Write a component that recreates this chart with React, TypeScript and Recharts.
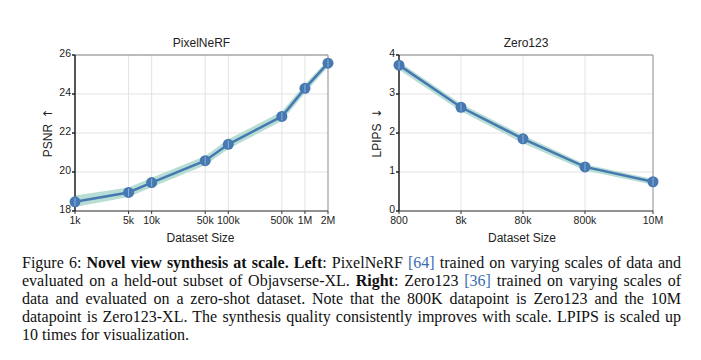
import { ComposedChart, Line, Area, XAxis, YAxis, CartesianGrid, ReferenceLine, Label } from "recharts";

// PixelNeRF panel
const pixelSizes = [1000, 5000, 10000, 50000, 100000, 500000, 1000000, 2000000];
const pixelTickLabels = ["1k", "5k", "10k", "50k", "100k", "500k", "1M", "2M"];
const psnr = [18.47, 18.95, 19.46, 20.58, 21.42, 22.85, 24.29, 25.58];
const psnrLow = [18.2, 18.72, 19.22, 20.35, 21.18, 22.62, 24.05, 25.38];
const psnrHigh = [18.8, 19.2, 19.7, 20.82, 21.68, 23.1, 24.5, 25.75];
const psnrTicks = [18, 20, 22, 24, 26];

// Zero123 panel
const zeroSizes = [800, 8000, 80000, 800000, 10000000];
const zeroTickLabels = ["800", "8k", "80k", "800k", "10M"];
const lpips = [3.74, 2.66, 1.85, 1.13, 0.75];
const lpipsLow = [3.62, 2.56, 1.74, 1.04, 0.67];
const lpipsHigh = [3.83, 2.75, 1.94, 1.2, 0.82];
const lpipsTicks = [0, 1, 2, 3, 4];

const captionLines = [
  [
    { t: "Figure 6: " },
    { t: "Novel view synthesis at scale.", b: true },
    { t: " " },
    { t: "Left", b: true },
    { t: ": PixelNeRF " },
    { t: "[64]", link: true },
    { t: " trained on varying scales of data and" },
  ],
  [
    { t: "evaluated on a held-out subset of Objavserse-XL. " },
    { t: "Right", b: true },
    { t: ": Zero123 " },
    { t: "[36]", link: true },
    { t: " trained on varying scales of" },
  ],
  [{ t: "data and evaluated on a zero-shot dataset. Note that the 800K datapoint is Zero123 and the 10M" }],
  [{ t: "datapoint is Zero123-XL. The synthesis quality consistently improves with scale. LPIPS is scaled up" }],
  [{ t: "10 times for visualization." }],
];

const BLUE = "#4678b1";
const BAND = "#b7ddd4";
const FONT = "'Liberation Sans', Arial, sans-serif";

function Dot(props: any) {
  const { cx, cy } = props;
  if (cx == null || cy == null) return null;
  return (
    <g>
      <circle cx={cx} cy={cy} r={5.5} fill={BLUE} />
      <line x1={cx} x2={cx} y1={cy - 4} y2={cy + 4} stroke="#8fb0d6" strokeWidth={1} />
    </g>
  );
}

interface PanelProps {
  left: number;
  title: string;
  sizes: number[];
  tickLabels: string[];
  values: number[];
  low: number[];
  high: number[];
  yTicks: number[];
  yLabel: string;
  arrow: string;
  yLabelX: number;
  xLabelDx: number;
  marginLeft: number;
  marginRight: number;
}

function Panel(p: PanelProps) {
  const data = p.sizes.map((s, i) => ({
    size: s,
    value: p.values[i],
    band: [p.low[i], p.high[i]],
  }));
  const yAxisWidth = 40;
  const plotLeft = p.marginLeft + yAxisWidth;
  const plotWidth = 350 - plotLeft - p.marginRight;
  const xMax = p.sizes[p.sizes.length - 1];
  const yMax = p.yTicks[p.yTicks.length - 1];
  return (
    <div style={{ position: "absolute", left: p.left, top: 0, width: 350, height: 250 }}>
      <div
        style={{
          position: "absolute",
          left: plotLeft,
          width: plotWidth,
          top: 36,
          lineHeight: "15px",
          fontSize: 12,
          fontFamily: FONT,
          color: "#222",
          textAlign: "center",
        }}
      >
        {p.title}
      </div>
      <div
        style={{
          position: "absolute",
          left: p.yLabelX,
          top: 133,
          transform: "translate(-50%, -50%) rotate(-90deg)",
          whiteSpace: "nowrap",
          fontSize: 12,
          lineHeight: "14px",
          fontFamily: FONT,
          color: "#222",
          zIndex: 2,
        }}
      >
        {p.yLabel}
        <span style={{ fontFamily: "'DejaVu Sans', sans-serif", fontSize: 12, marginLeft: 5 }}>{p.arrow}</span>
      </div>
      <ComposedChart
        width={350}
        height={250}
        data={data}
        margin={{ top: 55, right: p.marginRight, bottom: 0, left: p.marginLeft }}
        style={{ fontFamily: FONT }}
      >
        <CartesianGrid stroke="#e3e3e3" strokeWidth={1} />
        <XAxis
          dataKey="size"
          type="number"
          scale="log"
          domain={[p.sizes[0], xMax]}
          ticks={p.sizes}
          tickFormatter={(v: number) => p.tickLabels[p.sizes.indexOf(v)] ?? ""}
          height={39}
          tickSize={3}
          tickMargin={3}
          interval={0}
          stroke="#333"
          tick={{ fontSize: 10.5, fill: "#222" }}
        >
          <Label
            value="Dataset Size"
            position="insideBottom"
            offset={8}
            dx={p.xLabelDx}
            style={{ fontSize: 12, fill: "#222" }}
          />
        </XAxis>
        <YAxis
          type="number"
          domain={[p.yTicks[0], yMax]}
          ticks={p.yTicks}
          width={yAxisWidth}
          tickSize={3}
          tickMargin={1}
          interval={0}
          stroke="#222"
          strokeWidth={1.5}
          tick={{ fontSize: 10.5, fill: "#222", dy: -2 }}
        />
        <ReferenceLine y={yMax} stroke="#888" strokeWidth={1} />
        <ReferenceLine x={xMax} stroke="#999" strokeWidth={1} />
        <Area dataKey="band" type="linear" stroke="none" fill={BAND} fillOpacity={1} isAnimationActive={false} />
        <Line
          dataKey="value"
          type="linear"
          stroke={BLUE}
          strokeWidth={2.5}
          dot={<Dot />}
          activeDot={false}
          isAnimationActive={false}
        />
      </ComposedChart>
    </div>
  );
}

export default function App() {
  return (
    <div style={{ position: "absolute", left: 0, top: 0, width: 701, height: 360, background: "#fff" }}>
      <Panel
        left={0}
        title="PixelNeRF"
        sizes={pixelSizes}
        tickLabels={pixelTickLabels}
        values={psnr}
        low={psnrLow}
        high={psnrHigh}
        yTicks={psnrTicks}
        yLabel="PSNR"
        arrow="↑"
        yLabelX={48}
        xLabelDx={-1}
        marginLeft={35}
        marginRight={22}
      />
      <Panel
        left={350}
        title="Zero123"
        sizes={zeroSizes}
        tickLabels={zeroTickLabels}
        values={lpips}
        low={lpipsLow}
        high={lpipsHigh}
        yTicks={lpipsTicks}
        yLabel="LPIPS"
        arrow="↓"
        yLabelX={27}
        xLabelDx={-4}
        marginLeft={9}
        marginRight={47}
      />
      <div
        style={{
          position: "absolute",
          left: 22,
          top: 254,
          width: 659,
          fontFamily: "'Liberation Serif', 'Times New Roman', serif",
          fontSize: 16,
          lineHeight: "17.9px",
          color: "#111",
        }}
      >
        {captionLines.map((line, i) => (
          <div
            key={i}
            style={{
              textAlign: "justify",
              textAlignLast: i < captionLines.length - 1 ? "justify" : "left",
              whiteSpace: "nowrap",
            }}
          >
            {line.map((s: any, j) => (
              <span key={j} style={{ fontWeight: s.b ? "bold" : "normal", color: s.link ? "#3a6db0" : undefined }}>
                {s.t}
              </span>
            ))}
          </div>
        ))}
      </div>
    </div>
  );
}
